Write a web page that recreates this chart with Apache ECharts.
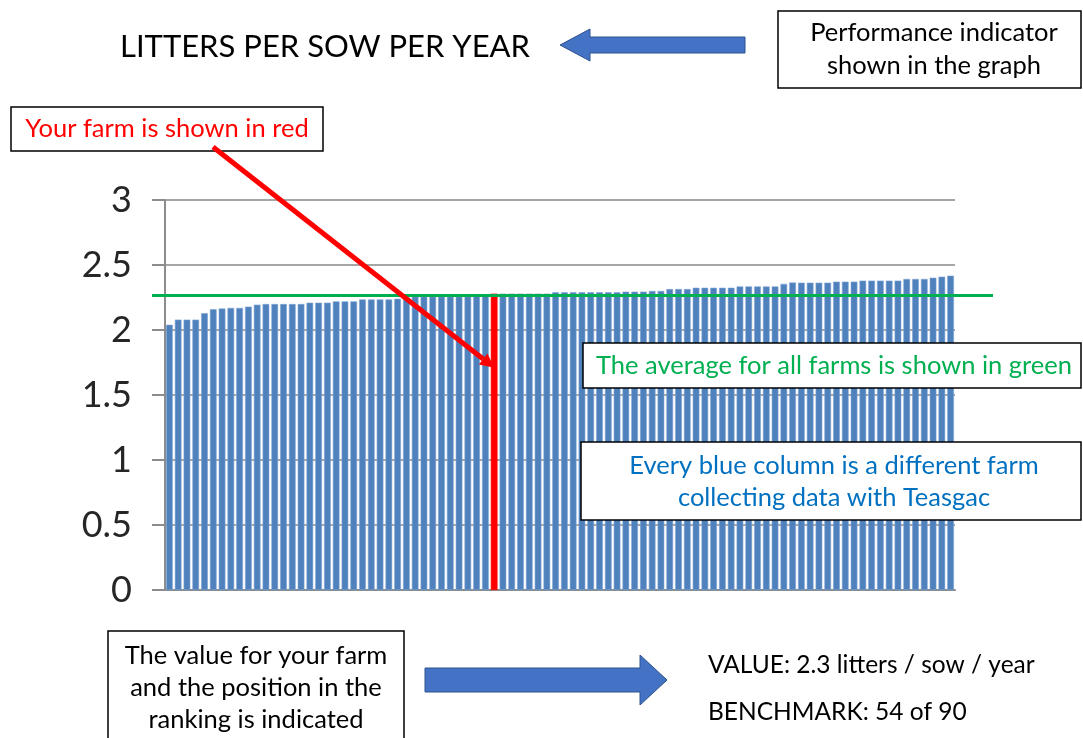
<!DOCTYPE html>
<html><head><meta charset="utf-8">
<script src="https://cdn.jsdelivr.net/npm/echarts@6/dist/echarts.min.js"></script>
<style>html,body{margin:0;padding:0;background:#fff}#c{width:1083px;height:738px}</style>
</head><body><div id="c"></div>
<script>
// ---- data ----
const farms = Array.from({length: 90}, (_, i) => 'Farm ' + (i + 1));
const litters = [
  2.04, 2.08, 2.08, 2.08, 2.13, 2.16, 2.165, 2.17, 2.17, 2.18,
  2.195, 2.20, 2.20, 2.20, 2.20, 2.20, 2.21, 2.21, 2.21, 2.22,
  2.22, 2.22, 2.235, 2.235, 2.235, 2.235, 2.24, 2.25, 2.257, 2.257,
  2.257, 2.257, 2.257, 2.257, 2.257, 2.265, 2.27, 2.28, 2.28, 2.28,
  2.28, 2.28, 2.28, 2.28, 2.29, 2.29, 2.29, 2.29, 2.29, 2.29,
  2.29, 2.29, 2.295, 2.295, 2.295, 2.30, 2.30, 2.315, 2.315, 2.315,
  2.325, 2.325, 2.325, 2.325, 2.325, 2.335, 2.335, 2.335, 2.335, 2.335,
  2.355, 2.365, 2.364, 2.364, 2.364, 2.364, 2.372, 2.372, 2.372, 2.38,
  2.38, 2.38, 2.38, 2.38, 2.392, 2.392, 2.392, 2.402, 2.41, 2.418
];
const yourFarmIndex = 37;
const averageValue = 2.265;
const yTicks = { min: 0, max: 3, interval: 0.5 };

const titleText = 'LITTERS PER SOW PER YEAR';
const indicatorNote = ['Performance indicator', 'shown in the graph'];
const redNote = 'Your farm is shown in red';
const greenNote = 'The average for all farms is shown in green';
const blueNote = ['Every blue column is a different farm', 'collecting data with Teasgac'];
const rankNote = ['The value for your farm', 'and the position in the', 'ranking is indicated'];
const valueText = 'VALUE: 2.3 litters / sow / year';
const benchText = 'BENCHMARK: 54 of 90';

// ---- chart ----
const FONT = 'Lato, "Open Sans", sans-serif';
const BAR = '#4f81bd', RED = '#ff0000', GREEN = '#00b050', ARROW = '#4472c4';
const TS = 25.5;
const chart = echarts.init(document.getElementById('c'), null, {renderer: 'canvas'});

const barData = litters.map((v, i) => i === yourFarmIndex
  ? {value: v, itemStyle: {color: RED, borderColor: RED}}
  : v);

chart.setOption({
  animation: false,
  backgroundColor: '#fff',
  grid: [
    {left: 165, right: 128, top: 200, bottom: 148, containLabel: false},
    {left: 152, right: 90, top: 200, bottom: 148, containLabel: false}
  ],
  xAxis: [
    {type: 'category', data: farms, gridIndex: 0,
     axisLine: {lineStyle: {color: '#8c8c8c', width: 2}},
     axisTick: {show: false}, axisLabel: {show: false}, splitLine: {show: false}},
    {type: 'value', gridIndex: 1, min: 0, max: 1, show: false}
  ],
  yAxis: [
    {type: 'value', gridIndex: 0, min: yTicks.min, max: yTicks.max, interval: yTicks.interval,
     axisLine: {show: true, lineStyle: {color: '#8c8c8c', width: 2}},
     axisTick: {show: true, length: 13, lineStyle: {color: '#8c8c8c', width: 2}},
     axisLabel: {fontSize: 36, fontFamily: FONT, color: '#262626', margin: 33,
       formatter: v => String(v)},
     splitLine: {show: true, lineStyle: {color: '#a6a6a6', width: 2}}},
    {type: 'value', gridIndex: 1, min: yTicks.min, max: yTicks.max, show: false}
  ],
  series: [
    {type: 'bar', xAxisIndex: 0, yAxisIndex: 0, data: barData, barCategoryGap: '24%',
     itemStyle: {color: BAR, borderColor: '#7ea3d3', borderWidth: 0.6}, z: 2},
    {type: 'line', xAxisIndex: 1, yAxisIndex: 1,
     data: [[0, averageValue], [1, averageValue]],
     symbol: 'none', lineStyle: {color: GREEN, width: 3}, z: 5, silent: true}
  ]
});

// ---- annotations ----
function box(x, y, w, h, lines, color, size, cx, firstY, lh) {
  const els = [{type: 'rect', shape: {x, y, width: w, height: h},
    style: {fill: '#fff', stroke: '#000', lineWidth: 1.5}, z: 20}];
  lines.forEach((t, i) => els.push({type: 'text', x: cx, y: firstY + i * lh, z: 21,
    style: {text: t, font: size + 'px ' + FONT, fill: color, align: 'center', verticalAlign: 'middle'}}));
  return els;
}
const redPt = chart.convertToPixel({xAxisIndex: 0, yAxisIndex: 0}, [yourFarmIndex, 1.71]);
const start = [213, 147];
const ang = Math.atan2(redPt[1] - start[1], redPt[0] - start[0]);
const hl = 14, hw = 7;
const base = [redPt[0] - hl * Math.cos(ang), redPt[1] - hl * Math.sin(ang)];
const px = -Math.sin(ang), py = Math.cos(ang);

const graphics = [
  {type: 'text', x: 325, y: 47, z: 21,
   style: {text: titleText, font: '31px ' + FONT, fill: '#000', align: 'center', verticalAlign: 'middle'}},
  {type: 'polygon', z: 20, shape: {points: [[560, 45], [590, 29], [590, 37], [745, 37], [745, 53], [590, 53], [590, 61]]},
   style: {fill: ARROW, stroke: '#2f528f', lineWidth: 1}},
  ...box(778, 11, 303, 77, indicatorNote, '#000', TS, 934, 33, 33),
  ...box(11, 107, 312, 44, [redNote], RED, TS, 167, 129, 0),
  {type: 'line', z: 22, shape: {x1: start[0], y1: start[1], x2: base[0], y2: base[1]},
   style: {stroke: RED, lineWidth: 5}},
  {type: 'polygon', z: 22, shape: {points: [redPt, [base[0] + px * hw, base[1] + py * hw], [base[0] - px * hw, base[1] - py * hw]]},
   style: {fill: RED}},
  ...box(583, 343, 498, 45, [greenNote], GREEN, TS, 834, 366, 0),
  ...box(581, 442, 500, 78, blueNote, '#0070c0', TS, 834, 466, 32),
  ...box(108, 631, 296, 120, rankNote, '#000', TS, 256, 656, 32),
  {type: 'polygon', z: 20, shape: {points: [[425, 668], [640, 668], [640, 655], [667, 680], [640, 705], [640, 692], [425, 692]]},
   style: {fill: ARROW, stroke: '#2f528f', lineWidth: 1}},
  {type: 'text', x: 708, y: 665, z: 21,
   style: {text: valueText, font: '24.5px ' + FONT, fill: '#000', align: 'left', verticalAlign: 'middle'}},
  {type: 'text', x: 708, y: 712, z: 21,
   style: {text: benchText, font: '24.5px ' + FONT, fill: '#000', align: 'left', verticalAlign: 'middle'}}
];
chart.setOption({graphic: {elements: graphics}});
</script></body></html>
